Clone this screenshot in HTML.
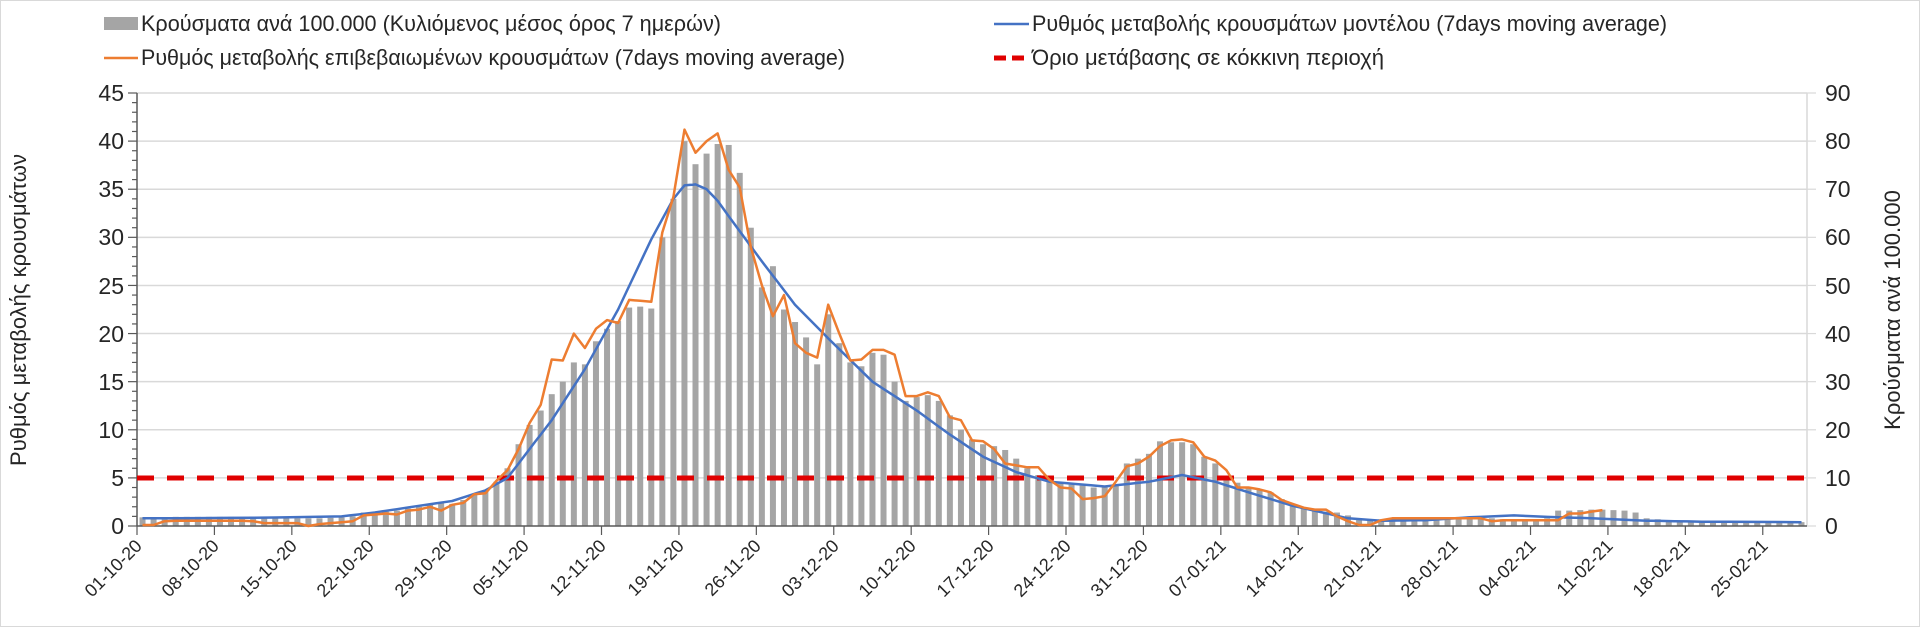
<!DOCTYPE html>
<html><head><meta charset="utf-8">
<style>
html,body{margin:0;padding:0;background:#fff;}
svg{display:block;font-family:"Liberation Sans Narrow","Liberation Sans",sans-serif;}
</style></head>
<body>
<svg id="c" width="1920" height="627" viewBox="0 0 1920 627" xmlns="http://www.w3.org/2000/svg">
<rect x="0.5" y="0.5" width="1919" height="626" fill="#fff" stroke="#d9d9d9"/>
<g id="grid" stroke="#d9d9d9" stroke-width="1.5"></g>
<g id="bars" fill="#a5a5a5"></g>
<g id="axes"></g>
<line x1="137" y1="478" x2="1807" y2="478" stroke="#e00000" stroke-width="5" stroke-dasharray="17 13"/>
<polyline id="blue" fill="none" stroke="#4472c4" stroke-width="2.5" stroke-linejoin="round"/>
<polyline id="orange" fill="none" stroke="#ed7d31" stroke-width="2.5" stroke-linejoin="round"/>

<!-- legend -->
<rect x="104" y="17" width="34" height="13" fill="#a5a5a5"/>
<text x="141" y="31" font-size="22" fill="#262626" textLength="580" lengthAdjust="spacingAndGlyphs">Κρούσματα ανά 100.000 (Κυλιόμενος μέσος όρος 7 ημερών)</text>
<line x1="994" y1="24" x2="1029" y2="24" stroke="#4472c4" stroke-width="2.5"/>
<text x="1032" y="31" font-size="22" fill="#262626" textLength="635" lengthAdjust="spacingAndGlyphs">Ρυθμός μεταβολής κρουσμάτων μοντέλου (7days moving average)</text>
<line x1="104" y1="58" x2="138" y2="58" stroke="#ed7d31" stroke-width="2.5"/>
<text x="141" y="65" font-size="22" fill="#262626" textLength="704" lengthAdjust="spacingAndGlyphs">Ρυθμός μεταβολής επιβεβαιωμένων κρουσμάτων (7days moving average)</text>
<line x1="994" y1="58" x2="1029" y2="58" stroke="#e00000" stroke-width="5" stroke-dasharray="12 6"/>
<text x="1032" y="65" font-size="22" fill="#262626" textLength="352" lengthAdjust="spacingAndGlyphs">Όριο μετάβασης σε κόκκινη περιοχή</text>

<!-- left axis labels -->
<g font-size="23" fill="#262626" text-anchor="end">
<text x="124" y="101">45</text><text x="124" y="149">40</text><text x="124" y="197">35</text>
<text x="124" y="245">30</text><text x="124" y="294">25</text><text x="124" y="342">20</text>
<text x="124" y="390">15</text><text x="124" y="438">10</text><text x="124" y="486">5</text>
<text x="124" y="534">0</text>
</g>
<g font-size="23" fill="#262626" text-anchor="start">
<text x="1825" y="101">90</text><text x="1825" y="149">80</text><text x="1825" y="197">70</text>
<text x="1825" y="245">60</text><text x="1825" y="294">50</text><text x="1825" y="342">40</text>
<text x="1825" y="390">30</text><text x="1825" y="438">20</text><text x="1825" y="486">10</text>
<text x="1825" y="534">0</text>
</g>
<text transform="translate(26,310) rotate(-90)" font-size="22" fill="#262626" text-anchor="middle">Ρυθμός μεταβολής κρουσμάτων</text>
<text transform="translate(1900,310) rotate(-90)" font-size="22" fill="#262626" text-anchor="middle">Κρούσματα ανά 100.000</text>

<g font-size="18" fill="#262626" text-anchor="end">
<text transform="translate(143,547) rotate(-45)">01-10-20</text>
<text transform="translate(220,547) rotate(-45)">08-10-20</text>
<text transform="translate(298,547) rotate(-45)">15-10-20</text>
<text transform="translate(375,547) rotate(-45)">22-10-20</text>
<text transform="translate(453,547) rotate(-45)">29-10-20</text>
<text transform="translate(530,547) rotate(-45)">05-11-20</text>
<text transform="translate(607,547) rotate(-45)">12-11-20</text>
<text transform="translate(685,547) rotate(-45)">19-11-20</text>
<text transform="translate(762,547) rotate(-45)">26-11-20</text>
<text transform="translate(840,547) rotate(-45)">03-12-20</text>
<text transform="translate(917,547) rotate(-45)">10-12-20</text>
<text transform="translate(995,547) rotate(-45)">17-12-20</text>
<text transform="translate(1072,547) rotate(-45)">24-12-20</text>
<text transform="translate(1149,547) rotate(-45)">31-12-20</text>
<text transform="translate(1227,547) rotate(-45)">07-01-21</text>
<text transform="translate(1304,547) rotate(-45)">14-01-21</text>
<text transform="translate(1382,547) rotate(-45)">21-01-21</text>
<text transform="translate(1459,547) rotate(-45)">28-01-21</text>
<text transform="translate(1537,547) rotate(-45)">04-02-21</text>
<text transform="translate(1614,547) rotate(-45)">11-02-21</text>
<text transform="translate(1691,547) rotate(-45)">18-02-21</text>
<text transform="translate(1769,547) rotate(-45)">25-02-21</text>
</g>
</svg>
<script>
(function(){
var NS="http://www.w3.org/2000/svg";
var X0=137,X1=1807,Y0=526,YT=93,N=151,dw=(X1-X0)/N;
function y(v){return Y0-v*(Y0-YT)/45;}
function el(t,a,p){var e=document.createElementNS(NS,t);for(var k in a)e.setAttribute(k,a[k]);p.appendChild(e);return e;}
var grid=document.getElementById('grid'),axes=document.getElementById('axes'),bars=document.getElementById('bars');
for(var v=5;v<=45;v+=5){el('line',{x1:X0,x2:X1,y1:y(v),y2:y(v)},grid);}
el('line',{x1:X0,x2:X0,y1:YT,y2:Y0,stroke:'#595959','stroke-width':1.5},axes);
el('line',{x1:X1,x2:X1,y1:YT,y2:Y0,stroke:'#d9d9d9','stroke-width':1.5},axes);
el('line',{x1:X0,x2:X1,y1:Y0,y2:Y0,stroke:'#595959','stroke-width':1.5},axes);
for(var v=0;v<=45;v++){el('line',{x1:v%5?X0-5:X0-9,x2:X0,y1:y(v),y2:y(v),stroke:'#595959','stroke-width':1.2},axes);}
for(var v=0;v<=45;v+=5){el('line',{x1:X1,x2:X1+9,y1:y(v),y2:y(v),stroke:'#d9d9d9','stroke-width':1.2},axes);}
for(var d=0;d<=147;d+=7){el('line',{x1:X0+d*dw,x2:X0+d*dw,y1:Y0,y2:Y0+9,stroke:'#595959','stroke-width':1.2},axes);}
var B=[0.9,0.9,0.9,0.95,0.95,0.95,0.95,0.95,0.95,0.9,0.85,0.8,0.8,0.8,0.8,0.8,0.8,0.85,0.9,1.0,1.4,
1.4,1.5,1.6,1.8,2.0,2.2,2.4,2.3,2.7,3.3,3.6,4.6,6,8.5,10.5,12,13.7,15,17,16.8,19.2,
20.5,21.3,22.7,22.8,22.6,30,34,40,37.6,38.7,39.7,39.6,36.7,31,24.8,27,22.5,21.2,19.6,16.8,22,19,17,16.6,18,17.8,15,13,13.4,13.6,13,11.5,10,9,8.5,8.3,7.9,7,6,5.3,5,4.5,4.3,4.2,4,4,4.3,6.5,7,7.5,8.8,8.7,8.7,8.5,7.2,6.5,5.2,4.5,4,3.8,3.5,2.8,2.3,1.9,1.6,1.5,1.4,1.1,0.8,0.6,
0.7,0.8,0.8,0.8,0.8,0.85,0.9,0.95,1.0,0.9,0.8,0.7,0.7,0.7,0.7,0.8,1.6,1.6,1.65,1.7,1.7,1.65,1.6,1.4,0.8,0.7,0.55,0.5,0.5,0.45,0.45,0.45,0.45,0.45,0.45,0.45,0.45,0.4,0.4,0.4,0.4];
for(var i=0;i<N;i++){var v=B[i]||0.4;el('rect',{x:X0+(i+0.5)*dw-3,y:y(v),width:6,height:Y0-y(v)},bars);}
var K=[[0,0.8],[10,0.85],[18,1.0],[21,1.4],[25,2.1],[28,2.6],[31,3.7],[33,5],[35,8],[37,11],[40,16.3],[43,22.5],[46,29.8],[48,34],[49,35.4],[50,35.5],[51,35],[52,33.8],[53,32.2],[56,27.5],[59,23],[62,19.5],[66,15],[70,12],[73,9.5],[76,7.2],[79,5.6],[82,4.6],[87,4.1],[91,4.6],[94,5.3],[97,4.6],[100,3.5],[104,2.1],[109,0.8],[112,0.55],[116,0.6],[120,0.9],[124,1.1],[127,0.95],[131,0.8],[136,0.55],[141,0.45],[150,0.4]];
var pts=[];
for(var j=0;j<K.length-1;j++){var a=K[j],b=K[j+1];for(var t=0;t<4;t++){var d=a[0]+(b[0]-a[0])*t/4,v=a[1]+(b[1]-a[1])*t/4;pts.push((X0+(d+0.5)*dw).toFixed(1)+','+y(v).toFixed(1));}}
var L=K[K.length-1];pts.push((X0+(L[0]+0.5)*dw).toFixed(1)+','+y(L[1]).toFixed(1));
document.getElementById('blue').setAttribute('points',pts.join(' '));
var O=[0.1,0.1,0.5,0.55,0.55,0.55,0.55,0.55,0.55,0.55,0.5,0.3,0.3,0.3,0.3,0,0.2,0.3,0.4,0.5,1.1,1.2,1.3,1.2,1.6,1.7,2.0,1.6,2.2,2.4,3.3,3.4,4.7,5.8,8.0,10.7,12.6,17.3,17.2,20,18.5,20.5,21.4,21.1,23.5,23.4,23.3,30.5,34.2,41.2,38.8,40,40.8,37,35.2,29,25,21.8,24,19,18,17.5,23,20,17.2,17.3,18.3,18.3,17.8,13.5,13.5,13.9,13.5,11.3,11,8.9,8.8,8,6.5,6.3,6.1,6.1,4.8,4,3.9,2.8,2.9,3.1,4.6,6.2,6.5,7.2,8.3,8.9,9,8.7,7.2,6.8,5.8,4,4,3.8,3.5,2.7,2.3,1.9,1.7,1.7,1.0,0.5,0.1,0.1,0.6,0.8,0.8,0.8,0.8,0.8,0.8,0.8,0.8,0.8,0.5,0.6,0.6,0.6,0.6,0.6,0.6,1.3,1.3,1.5,1.65];
var op=[];for(var i=0;i<O.length;i++)op.push((X0+(i+0.5)*dw).toFixed(1)+','+y(O[i]).toFixed(1));
document.getElementById('orange').setAttribute('points',op.join(' '));
})();
</script>
</body></html>
